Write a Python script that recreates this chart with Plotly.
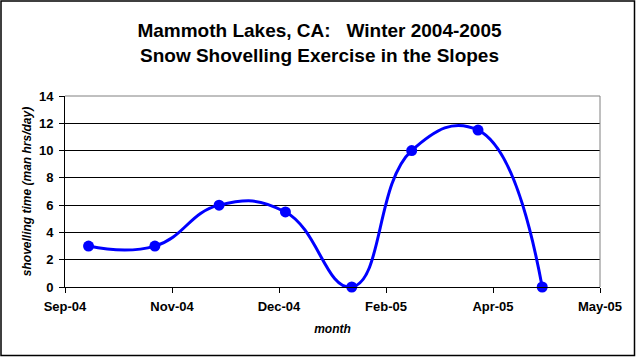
import plotly.graph_objects as go

dates = ["2004-10-01", "2004-11-01", "2004-12-01", "2005-01-01",
         "2005-02-01", "2005-03-01", "2005-04-01", "2005-05-01"]
hours = [3, 3, 6, 5.5, 0, 10, 11.5, 0]
y_ticks = [0, 2, 4, 6, 8, 10, 12, 14]

FONT = "Liberation Sans, Arial, sans-serif"
W, H = 639, 357
L, R, T, B = 65, 39, 96, 70
pw, ph = W - L - R, H - T - B

fig = go.Figure()
fig.add_trace(go.Scatter(
    x=dates, y=hours, mode="lines",
    line=dict(color="#0000FF", width=3, shape="spline", smoothing=1.3),
    hoverinfo="skip", showlegend=False))
fig.add_trace(go.Scatter(
    x=dates, y=hours, mode="markers",
    marker=dict(color="#0000FF", size=11, symbol="circle"),
    cliponaxis=False, showlegend=False))

fig.update_layout(
    width=W, height=H,
    margin=dict(l=L, r=R, t=T, b=B),
    paper_bgcolor="white", plot_bgcolor="white",
    font=dict(family=FONT, size=12, color="black"),
    title=dict(
        text="Mammoth Lakes, CA:   Winter 2004-2005<br>Snow Shovelling Exercise in the Slopes",
        x=(W / 2 - L) / pw, xref="paper", xanchor="center",
        y=1 - 37 / H, yanchor="top",
        font=dict(family=FONT, size=19, weight="bold", color="black")),
    xaxis=dict(
        type="date", automargin=False,
        range=["2004-09-20", "2005-05-28"],
        tick0="2004-09-20", dtick=50 * 86400000,
        tickformat="%b-%y",
        ticks="outside", ticklen=5, tickcolor="black",
        ticklabelstandoff=2,
        showline=True, linecolor="black", linewidth=1,
        showgrid=False, zeroline=False,
        tickfont=dict(family=FONT, size=13, weight="bold"),
        title=dict(text="month", standoff=12,
                   font=dict(family=FONT, size=12, weight="bold", style="italic")),
    ),
    yaxis=dict(
        range=[0, 14], tickvals=y_ticks, automargin=False,
        ticks="outside", ticklen=5, tickcolor="black",
        ticklabelstandoff=3,
        showline=True, linecolor="black", linewidth=1,
        showgrid=True, gridcolor="black", gridwidth=1,
        zeroline=False,
        tickfont=dict(family=FONT, size=13, weight="bold"),
        title=dict(text="shovelling time (man hrs/day)", standoff=4,
                   font=dict(family=FONT, size=12, weight="bold", style="italic")),
    ),
    shapes=[
        dict(type="line", xref="paper", yref="paper", x0=0, x1=1, y0=1, y1=1,
             line=dict(color="#808080", width=1), layer="above"),
        dict(type="line", xref="paper", yref="paper", x0=1, x1=1, y0=0, y1=1,
             line=dict(color="#808080", width=1), layer="above"),
        dict(type="rect", xref="paper", yref="paper",
             x0=(1 - L) / pw, x1=(W - 4.5 - L) / pw,
             y0=-(H - 1.5 - T - ph) / ph, y1=1 + (T - 1) / ph,
             line=dict(color="black", width=1.5), layer="above"),
    ],
)

fig.write_html("out.html",
               config={"displayModeBar": False, "staticPlot": True},
               post_script="document.body.style.margin='0';document.body.style.overflow='hidden';")
